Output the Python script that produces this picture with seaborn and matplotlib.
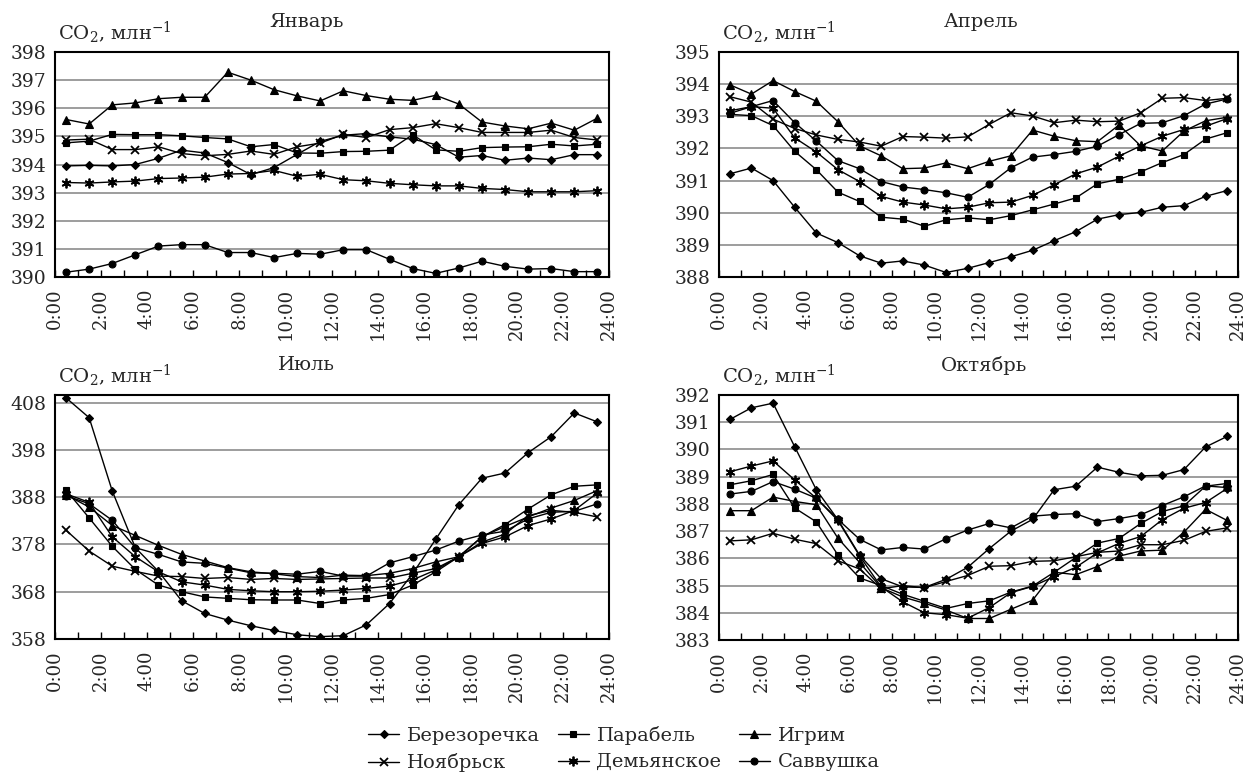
import matplotlib
matplotlib.use("Agg")
import matplotlib.pyplot as plt
import seaborn as sns
import pandas as pd
from matplotlib.ticker import MultipleLocator
from matplotlib.lines import Line2D

# ---------------- data ----------------
hours = [0.5, 1.5, 2.5, 3.5, 4.5, 5.5, 6.5, 7.5, 8.5, 9.5, 10.5, 11.5,
         12.5, 13.5, 14.5, 15.5, 16.5, 17.5, 18.5, 19.5, 20.5, 21.5, 22.5, 23.5]
tick_hours = [0, 2, 4, 6, 8, 10, 12, 14, 16, 18, 20, 22, 24]
tick_labels = ["0:00", "2:00", "4:00", "6:00", "8:00", "10:00", "12:00",
               "14:00", "16:00", "18:00", "20:00", "22:00", "24:00"]
stations = ["Березоречка", "Парабель", "Игрим", "Ноябрьск", "Демьянское", "Саввушка"]
months = ["Январь", "Апрель", "Июль", "Октябрь"]

# January
jan_berezorechka = [393.95, 393.97, 393.95, 394.0, 394.22, 394.51, 394.41, 394.07, 393.64, 393.89, 394.36, 394.82,
                    395.04, 395.1, 394.98, 394.9, 394.71, 394.26, 394.32, 394.15, 394.23, 394.17, 394.35, 394.35]
jan_parabel = [394.77, 394.83, 395.07, 395.06, 395.06, 395.02, 394.96, 394.91, 394.63, 394.71, 394.41, 394.40,
               394.46, 394.47, 394.51, 395.06, 394.52, 394.47, 394.6, 394.62, 394.63, 394.72, 394.66, 394.72]
jan_igrim = [395.6, 395.44, 396.12, 396.19, 396.34, 396.39, 396.39, 397.28, 397.0, 396.66, 396.44, 396.26,
             396.62, 396.45, 396.32, 396.28, 396.46, 396.15, 395.51, 395.37, 395.27, 395.47, 395.22, 395.65]
jan_noyabrsk = [394.87, 394.9, 394.53, 394.53, 394.63, 394.39, 394.31, 394.36, 394.48, 394.36, 394.63, 394.76,
                395.07, 394.96, 395.24, 395.31, 395.45, 395.31, 395.14, 395.14, 395.14, 395.22, 394.96, 394.87]
jan_demyanskoe = [393.36, 393.34, 393.38, 393.41, 393.5, 393.52, 393.55, 393.66, 393.68, 393.79, 393.58, 393.65,
                  393.46, 393.42, 393.33, 393.28, 393.24, 393.24, 393.15, 393.11, 393.03, 393.03, 393.03, 393.07]
jan_savvushka = [390.17, 390.28, 390.48, 390.79, 391.1, 391.15, 391.15, 390.87, 390.87, 390.69, 390.84, 390.81,
                 390.97, 390.97, 390.63, 390.3, 390.13, 390.32, 390.56, 390.38, 390.28, 390.3, 390.19, 390.19]

# April
apr_berezorechka = [391.21, 391.39, 391.0, 390.17, 389.37, 389.07, 388.66, 388.43, 388.5, 388.37, 388.14, 388.27,
                    388.45, 388.63, 388.83, 389.13, 389.41, 389.8, 389.94, 390.01, 390.17, 390.22, 390.51, 390.69]
apr_parabel = [393.06, 393.02, 392.71, 391.91, 391.34, 390.64, 390.35, 389.86, 389.8, 389.58, 389.78, 389.84,
               389.78, 389.91, 390.09, 390.27, 390.46, 390.9, 391.04, 391.27, 391.56, 391.81, 392.29, 392.49]
apr_igrim = [393.98, 393.69, 394.11, 393.77, 393.47, 392.83, 392.08, 391.77, 391.37, 391.39, 391.55, 391.37,
             391.6, 391.77, 392.57, 392.38, 392.24, 392.21, 392.73, 392.08, 391.92, 392.54, 392.86, 392.97]
apr_noyabrsk = [393.61, 393.44, 392.91, 392.62, 392.42, 392.28, 392.2, 392.07, 392.37, 392.35, 392.32, 392.36,
                392.75, 393.11, 393.01, 392.8, 392.88, 392.83, 392.85, 393.11, 393.56, 393.58, 393.49, 393.56]
apr_demyanskoe = [393.17, 393.3, 393.25, 392.33, 391.89, 391.34, 390.97, 390.51, 390.33, 390.24, 390.12, 390.17,
                  390.31, 390.33, 390.54, 390.87, 391.21, 391.42, 391.76, 392.08, 392.38, 392.59, 392.69, 392.93]
apr_savvushka = [393.09, 393.3, 393.49, 392.8, 392.23, 391.62, 391.37, 390.97, 390.8, 390.72, 390.62, 390.48,
                 390.88, 391.4, 391.73, 391.81, 391.91, 392.07, 392.43, 392.78, 392.8, 393.02, 393.38, 393.54]

# July
jul_berezorechka = [409.0, 404.8, 389.3, 377.3, 372.3, 366.1, 363.4, 362.0, 360.8, 359.8, 358.9, 358.5,
                    358.7, 361.0, 365.5, 371.8, 379.1, 386.4, 392.0, 393.1, 397.4, 400.8, 405.8, 403.9]
jul_parabel = [389.5, 383.6, 377.6, 372.7, 369.4, 368.0, 366.9, 366.6, 366.3, 366.25, 366.25, 365.5,
               366.25, 366.6, 367.4, 369.4, 372.2, 375.4, 379.6, 382.2, 385.5, 388.5, 390.3, 390.6]
jul_igrim = [388.5, 385.9, 382.0, 379.9, 377.8, 375.9, 374.5, 373.1, 372.2, 371.8, 371.2, 371.0,
             371.5, 371.4, 371.9, 372.9, 374.3, 375.4, 379.6, 381.8, 383.8, 385.7, 387.3, 389.4]
jul_noyabrsk = [381.0, 376.6, 373.4, 372.3, 371.3, 371.2, 370.8, 371.0, 370.6, 370.8, 370.6, 370.7,
                370.8, 370.9, 370.9, 371.9, 372.9, 375.4, 378.5, 380.2, 384.1, 385.2, 384.8, 383.8]
jul_demyanskoe = [388.7, 386.9, 379.6, 375.4, 372.2, 370.1, 369.4, 368.5, 368.2, 368.0, 368.0, 368.1,
                  368.35, 368.7, 369.2, 370.5, 372.6, 375.4, 378.2, 379.6, 382.0, 383.4, 385.2, 388.9]
jul_savvushka = [388.3, 386.6, 383.1, 377.3, 375.9, 374.3, 374.0, 373.0, 372.0, 371.9, 371.7, 372.3,
                 371.3, 371.3, 374.1, 375.4, 376.8, 378.7, 380.0, 380.8, 383.4, 384.8, 385.0, 386.6]

# October
oct_berezorechka = [391.1, 391.53, 391.7, 390.1, 388.52, 387.42, 386.12, 385.25, 384.95, 384.93, 385.23, 385.67,
                    386.36, 387.0, 387.43, 388.52, 388.65, 389.35, 389.16, 389.03, 389.05, 389.26, 390.09, 390.48]
oct_parabel = [388.7, 388.85, 389.08, 387.85, 387.34, 386.12, 385.28, 385.0, 384.68, 384.42, 384.16, 384.34,
               384.44, 384.76, 384.98, 385.49, 386.03, 386.56, 386.73, 387.28, 387.72, 387.93, 388.65, 388.75]
oct_igrim = [387.75, 387.75, 388.25, 388.09, 387.97, 386.74, 385.85, 384.92, 384.58, 384.35, 384.1, 383.79,
             383.79, 384.13, 384.46, 385.49, 385.4, 385.7, 386.08, 386.27, 386.3, 386.96, 387.8, 387.39]
oct_noyabrsk = [386.64, 386.68, 386.92, 386.7, 386.54, 385.91, 385.61, 384.88, 385.0, 384.92, 385.15, 385.37,
                385.71, 385.73, 385.89, 385.91, 386.06, 386.22, 386.27, 386.5, 386.5, 386.66, 386.99, 387.12]
oct_demyanskoe = [389.18, 389.39, 389.58, 388.88, 388.21, 387.39, 386.09, 384.95, 384.4, 384.0, 383.93, 383.8,
                  384.19, 384.74, 384.97, 385.33, 385.67, 386.2, 386.55, 386.8, 387.42, 387.84, 388.05, 388.57]
oct_savvushka = [388.36, 388.46, 388.82, 388.54, 388.21, 387.43, 386.7, 386.31, 386.4, 386.34, 386.72, 387.04,
                 387.28, 387.12, 387.55, 387.61, 387.64, 387.35, 387.46, 387.6, 387.94, 388.26, 388.66, 388.6]

jan_ylim, jan_yticks = (390, 398), [390, 391, 392, 393, 394, 395, 396, 397, 398]
apr_ylim, apr_yticks = (388, 395), [388, 389, 390, 391, 392, 393, 394, 395]
jul_ylim, jul_yticks = (358, 409.6), [358, 368, 378, 388, 398, 408]
oct_ylim, oct_yticks = (383, 392), [383, 384, 385, 386, 387, 388, 389, 390, 391, 392]

series = {
    "Январь": [jan_berezorechka, jan_parabel, jan_igrim, jan_noyabrsk, jan_demyanskoe, jan_savvushka],
    "Апрель": [apr_berezorechka, apr_parabel, apr_igrim, apr_noyabrsk, apr_demyanskoe, apr_savvushka],
    "Июль": [jul_berezorechka, jul_parabel, jul_igrim, jul_noyabrsk, jul_demyanskoe, jul_savvushka],
    "Октябрь": [oct_berezorechka, oct_parabel, oct_igrim, oct_noyabrsk, oct_demyanskoe, oct_savvushka],
}
limits = {"Январь": (jan_ylim, jan_yticks), "Апрель": (apr_ylim, apr_yticks),
          "Июль": (jul_ylim, jul_yticks), "Октябрь": (oct_ylim, oct_yticks)}

rows = []
for m in months:
    for st, vals in zip(stations, series[m]):
        for h, v in zip(hours, vals):
            rows.append({"month": m, "station": st, "hour": h, "co2": v})
df = pd.DataFrame(rows)

# ---------------- style ----------------
sns.set_theme(style="white")
plt.rcParams["font.family"] = ["DejaVu Serif"]
plt.rcParams["mathtext.fontset"] = "dejavuserif"

marker_style = {
    "Березоречка": dict(marker="D", markersize=4.5, markeredgewidth=0.8),
    "Парабель": dict(marker="s", markersize=5, markeredgewidth=0.8),
    "Игрим": dict(marker="^", markersize=6, markeredgewidth=0.8),
    "Ноябрьск": dict(marker="x", markersize=6, markeredgewidth=1.3),
    "Демьянское": dict(marker=(6, 2, 0), markersize=7, markeredgewidth=1.3),
    "Саввушка": dict(marker="o", markersize=5, markeredgewidth=0.8),
}

W, H = 1247, 773
fig = plt.figure(figsize=(W / 100, H / 100), dpi=100)

# panel boxes in pixels: left, top, right, bottom
boxes = {
    "Январь": (54.5, 52, 609, 277),
    "Апрель": (719, 52, 1238, 277),
    "Июль": (54.5, 395, 609, 639),
    "Октябрь": (719, 395, 1238, 640),
}
title_x = {"Январь": 307, "Апрель": 981, "Июль": 306, "Октябрь": 984}

for m in months:
    l, t, r, b = boxes[m]
    ax = fig.add_axes([l / W, 1 - b / H, (r - l) / W, (b - t) / H])
    sub = df[df["month"] == m]
    for st in stations:
        d = sub[sub["station"] == st]
        sns.lineplot(data=d, x="hour", y="co2", ax=ax, color="black", linewidth=1.0,
                     markerfacecolor="black", markeredgecolor="black",
                     legend=False, errorbar=None, **marker_style[st])
    (ylo, yhi), yt = limits[m]
    ax.set_xlim(0, 24)
    ax.set_ylim(ylo, yhi)
    ax.set_yticks(yt)
    ax.set_yticklabels([str(v) for v in yt])
    ax.set_xticks(tick_hours)
    ax.set_xticklabels(tick_labels)
    ax.xaxis.set_minor_locator(MultipleLocator(1))
    ax.tick_params(axis="x", which="both", direction="in", length=5, width=1,
                   color="black", bottom=True, labelrotation=90, labelsize=13, pad=8)
    ax.tick_params(axis="y", length=0, labelsize=13.5, pad=6)
    ax.grid(axis="y", color="#8c8c8c", linewidth=1.2)
    ax.grid(axis="x", visible=False)
    ax.set_axisbelow(True)
    for sp in ax.spines.values():
        sp.set_color("black")
        sp.set_linewidth(1.5)
    ax.set_xlabel("")
    ax.set_ylabel("")
    fig.text(title_x[m] / W, 1 - (t - 30) / H, m, ha="center", va="center", fontsize=14)
    fig.text((l + 3) / W, 1 - (t - 19) / H, "CO$_2$, млн$^{-1}$", ha="left", va="center", fontsize=14)

legend_order = ["Березоречка", "Ноябрьск", "Парабель", "Демьянское", "Игрим", "Саввушка"]
handles = [Line2D([0], [0], color="black", linewidth=1.0, markerfacecolor="black",
                  markeredgecolor="black", **marker_style[s]) for s in legend_order]
fig.legend(handles, legend_order, ncol=3, loc="center", bbox_to_anchor=(624 / W, 1 - 749 / H),
           frameon=False, fontsize=14, handlelength=1.6, handletextpad=0.4,
           columnspacing=0.9, labelspacing=0.45)

fig.savefig("out.png", dpi=100)
